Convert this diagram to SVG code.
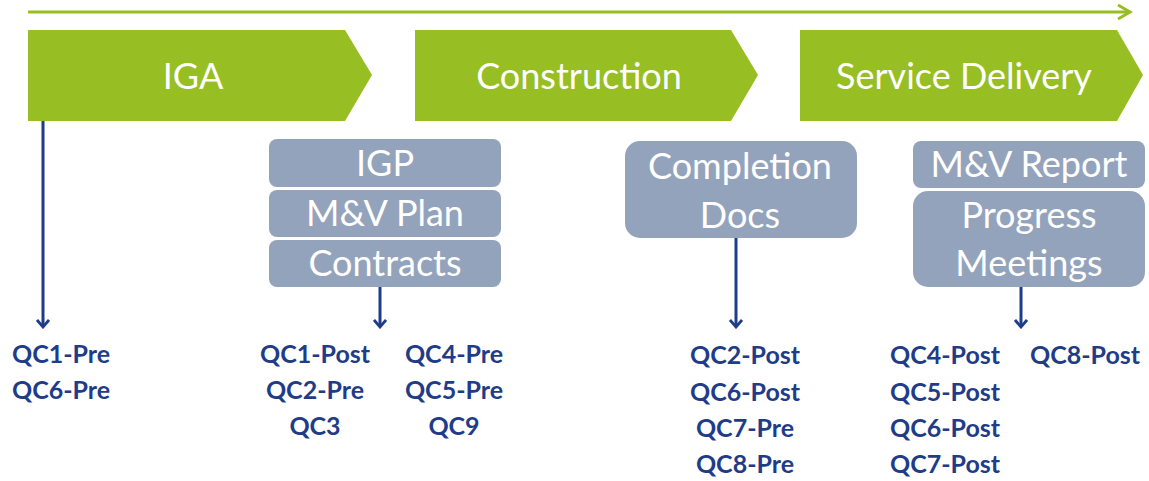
<svg xmlns="http://www.w3.org/2000/svg" width="1149" height="481" viewBox="0 0 1149 481">
  <style>
    .phase { fill: #97BE22; }
    .phase-label { fill: #ffffff; font-family: Lato, "Liberation Sans", sans-serif; font-size: 36px; text-anchor: middle; }
    .doc { fill: #94A3BC; }
    .doc-label { fill: #ffffff; font-family: Lato, "Liberation Sans", sans-serif; font-size: 36px; text-anchor: middle; }
    .qc { fill: #1F3C88; font-family: Lato, "Liberation Sans", sans-serif; font-size: 25px; font-weight: bold; }
    .mid { text-anchor: middle; }
    .link { stroke: #1F3C88; stroke-width: 3; fill: none; }
    .timeline { stroke: #97BE22; stroke-width: 3; fill: none; }
  </style>
  <defs>
    <!-- open arrowhead, drawn pointing along +x so orient="auto" follows the line -->
    <marker id="head" viewBox="0 0 14 14" refX="12" refY="7" markerWidth="14" markerHeight="14" markerUnits="userSpaceOnUse" orient="auto">
      <path d="M5,1 L12,7 L5,13" fill="none" stroke="#1F3C88" stroke-width="2.8"/>
    </marker>
  </defs>

  <!-- timeline -->
  <g id="timeline">
    <line class="timeline" x1="28" y1="12" x2="1129" y2="12"/>
    <polyline class="timeline" points="1118,5 1130,12 1118,19"/>
  </g>

  <!-- phases -->
  <g id="phase-iga">
    <polygon class="phase" points="28,30 345,30 372,75 345,121 28,121"/>
    <text class="phase-label" x="193" y="89">IGA</text>
  </g>
  <g id="phase-construction">
    <polygon class="phase" points="415,30 731,30 758,75 731,121 415,121"/>
    <text class="phase-label" x="579" y="89">Construction</text>
  </g>
  <g id="phase-service">
    <polygon class="phase" points="800,30 1117,30 1143,75 1117,121 800,121"/>
    <text class="phase-label" x="964" y="89">Service Delivery</text>
  </g>

  <!-- document boxes -->
  <g id="doc-igp">
    <rect class="doc" x="269" y="139" width="232" height="48" rx="8"/>
    <text class="doc-label" x="385" y="176">IGP</text>
  </g>
  <g id="doc-mv-plan">
    <rect class="doc" x="269" y="190" width="232" height="47" rx="8"/>
    <text class="doc-label" x="385" y="226">M&amp;V Plan</text>
  </g>
  <g id="doc-contracts">
    <rect class="doc" x="269" y="240" width="232" height="47" rx="8"/>
    <text class="doc-label" x="385" y="276">Contracts</text>
  </g>
  <g id="doc-completion">
    <rect class="doc" x="625" y="141" width="232" height="97" rx="15"/>
    <text class="doc-label" x="740" y="179">Completion</text>
    <text class="doc-label" x="740" y="228">Docs</text>
  </g>
  <g id="doc-mv-report">
    <rect class="doc" x="913" y="141" width="232" height="47" rx="8"/>
    <text class="doc-label" x="1029" y="177">M&amp;V Report</text>
  </g>
  <g id="doc-progress">
    <rect class="doc" x="913" y="191" width="232" height="96" rx="15"/>
    <text class="doc-label" x="1029" y="228">Progress</text>
    <text class="doc-label" x="1029" y="276">Meetings</text>
  </g>

  <!-- connectors -->
  <g id="connectors">
    <line class="link" x1="43" y1="121" x2="43" y2="327" marker-end="url(#head)"/>
    <line class="link" x1="380" y1="287" x2="380" y2="327" marker-end="url(#head)"/>
    <line class="link" x1="736" y1="238" x2="736" y2="327" marker-end="url(#head)"/>
    <line class="link" x1="1021" y1="287" x2="1021" y2="327" marker-end="url(#head)"/>
  </g>

  <!-- quality checks -->
  <g id="qc-iga">
    <text class="qc" x="12" y="363">QC1-Pre</text>
    <text class="qc" x="12" y="399">QC6-Pre</text>
  </g>
  <g id="qc-construction-start">
    <text class="qc mid" x="315" y="363">QC1-Post</text>
    <text class="qc mid" x="315" y="399">QC2-Pre</text>
    <text class="qc mid" x="315" y="435">QC3</text>
    <text class="qc mid" x="454" y="363">QC4-Pre</text>
    <text class="qc mid" x="454" y="399">QC5-Pre</text>
    <text class="qc mid" x="454" y="435">QC9</text>
  </g>
  <g id="qc-construction-end">
    <text class="qc mid" x="745" y="364">QC2-Post</text>
    <text class="qc mid" x="745" y="401">QC6-Post</text>
    <text class="qc mid" x="745" y="437">QC7-Pre</text>
    <text class="qc mid" x="745" y="473">QC8-Pre</text>
  </g>
  <g id="qc-service">
    <text class="qc mid" x="945" y="364">QC4-Post</text>
    <text class="qc mid" x="945" y="401">QC5-Post</text>
    <text class="qc mid" x="945" y="437">QC6-Post</text>
    <text class="qc mid" x="945" y="473">QC7-Post</text>
    <text class="qc mid" x="1085" y="364">QC8-Post</text>
  </g>
</svg>
